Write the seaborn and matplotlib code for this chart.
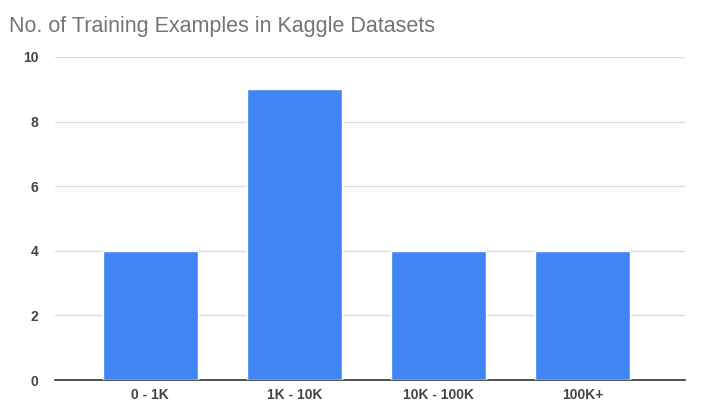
import matplotlib
matplotlib.use("Agg")
import matplotlib.pyplot as plt
import seaborn as sns
import pandas as pd

categories = ["0 - 1K", "1K - 10K", "10K - 100K", "100K+"]
counts = [4, 9, 4, 4]
yticks = [0, 2, 4, 6, 8, 10]

df = pd.DataFrame({"range": categories, "count": counts})

sns.set_style("white")
plt.rcParams['font.family'] = ['Liberation Sans', 'DejaVu Sans']

fig = plt.figure(figsize=(7.16, 4.15), dpi=100)
ax = fig.add_axes([0.077, 0.084, 0.88, 0.779])
sns.barplot(data=df, x="range", y="count", color="#4285f4", saturation=1,
            width=0.66, ax=ax, zorder=3)

ax.set_ylim(0, 10)
ax.set_xlim(-0.66, 3.71)
ax.set_yticks(yticks)
ax.set_yticklabels([str(v) for v in yticks], fontsize=10, color="#444444")
ax.tick_params(axis="x", labelsize=10, colors="#444444", length=0, pad=6)
ax.tick_params(axis="y", length=0, pad=12)
for lab in ax.get_xticklabels():
    lab.set_fontweight("bold")
for lab in ax.get_yticklabels():
    lab.set_fontweight("bold")
ax.yaxis.grid(True, color="#dddddd", linewidth=1, zorder=0)
ax.set_xlabel("")
ax.set_ylabel("")
for side in ["top", "right", "left"]:
    ax.spines[side].set_visible(False)
ax.spines["bottom"].set_color("#333333")
ax.spines["bottom"].set_linewidth(1.2)

fig.text(0.012, 0.935, "No. of Training Examples in Kaggle Datasets",
         fontsize=15.5, color="#757575", ha="left", va="center")

fig.savefig("out.png", dpi=100)
